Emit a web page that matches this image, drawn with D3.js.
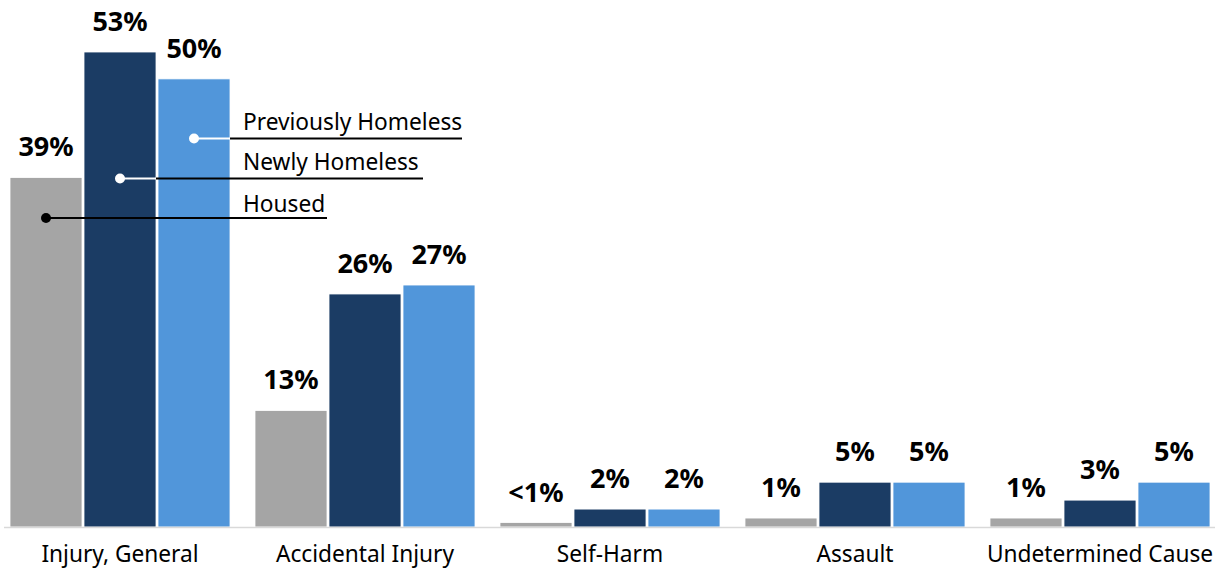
<!DOCTYPE html>
<html>
<head>
<meta charset="utf-8">
<script src="https://cdn.jsdelivr.net/npm/d3@7"></script>
<style>
  html, body { margin: 0; padding: 0; background: #fff; }
  svg { display: block; font-family: "Noto Sans", "Open Sans", sans-serif; }
</style>
</head>
<body>
<svg id="chart" width="1217" height="569"></svg>
<script>
// Injury categories along the x axis
const categories = ["Injury, General", "Accidental Injury", "Self-Harm", "Assault", "Undetermined Cause"];

// Housing status series
const seriesNames = ["Housed", "Newly Homeless", "Previously Homeless"];
const seriesColors = ["#A5A5A5", "#1B3C64", "#5196DA"];

// Percentages per series, in category order
const housed = [39, 13, 0.5, 1, 1];
const newlyHomeless = [53, 26, 2, 5, 3];
const previouslyHomeless = [50, 27, 2, 5, 5];

// Value labels shown above each bar
const housedLabels = ["39%", "13%", "<1%", "1%", "1%"];
const newlyLabels = ["53%", "26%", "2%", "5%", "3%"];
const previouslyLabels = ["50%", "27%", "2%", "5%", "5%"];

const values = [housed, newlyHomeless, previouslyHomeless];
const labels = [housedLabels, newlyLabels, previouslyLabels];

const svg = d3.select("#chart");

const baseY = 527;

const x0 = d3.scaleBand()
  .domain(categories)
  .range([10, 1210])
  .paddingInner(0.102)
  .paddingOuter(0);

const x1 = d3.scaleBand()
  .domain(seriesNames)
  .range([0, x0.bandwidth()])
  .paddingInner(0.027)
  .paddingOuter(0);

const y = d3.scaleLinear()
  .domain([0, 53])
  .range([baseY, 52]);

// Flatten into one record per bar
const bars = [];
categories.forEach((cat, ci) => {
  seriesNames.forEach((s, si) => {
    bars.push({ cat, series: s, si, value: values[si][ci], label: labels[si][ci] });
  });
});

const g = svg.append("g");

g.selectAll("rect.bar")
  .data(bars)
  .join("rect")
  .attr("class", "bar")
  .attr("x", d => x0(d.cat) + x1(d.series))
  .attr("y", d => y(d.value))
  .attr("width", x1.bandwidth())
  .attr("height", d => baseY - y(d.value))
  .attr("fill", d => seriesColors[d.si])
  .attr("stroke", "#ffffff")
  .attr("stroke-width", 0.8);

// Baseline
svg.append("line")
  .attr("x1", 4).attr("x2", 1215)
  .attr("y1", baseY + 0.5).attr("y2", baseY + 0.5)
  .attr("stroke", "#D9D9D9")
  .attr("stroke-width", 1.5);

// Value labels
g.selectAll("text.val")
  .data(bars)
  .join("text")
  .attr("class", "val")
  .attr("x", d => x0(d.cat) + x1(d.series) + x1.bandwidth() / 2)
  .attr("y", d => y(d.value) - 21)
  .attr("text-anchor", "middle")
  .attr("font-size", 27)
  .attr("font-weight", 700)
  .attr("fill", "#000")
  .text(d => d.label);

// Category axis
const xAxis = d3.axisBottom(x0).tickSize(0).tickPadding(0);
const axisG = svg.append("g")
  .attr("transform", `translate(0, ${baseY})`)
  .call(xAxis);
axisG.select(".domain").remove();
axisG.selectAll("text")
  .attr("y", 0)
  .attr("dy", 0)
  .attr("transform", "translate(0, 35)")
  .attr("font-family", "\"Noto Sans\", \"Open Sans\", sans-serif")
  .attr("font-size", 22.7)
  .attr("fill", "#000");

// Callout legend anchored to the first category's bars
const firstCat = categories[0];
const legendItems = [
  { si: 2, dotY: 138.5, textY: 130, textX: 243, lineEnd: 462 },
  { si: 1, dotY: 178.5, textY: 170, textX: 243, lineEnd: 423 },
  { si: 0, dotY: 218, textY: 212, textX: 243, lineEnd: 327 }
];

legendItems.forEach(item => {
  const name = seriesNames[item.si];
  const barLeft = x0(firstCat) + x1(name);
  const barRight = barLeft + x1.bandwidth();
  const dotX = barLeft + x1.bandwidth() / 2;
  const onDark = item.si !== 0;
  const leg = svg.append("g");
  if (onDark) {
    leg.append("line")
      .attr("x1", dotX).attr("x2", barRight)
      .attr("y1", item.dotY).attr("y2", item.dotY)
      .attr("stroke", "#fff").attr("stroke-width", 2);
    leg.append("line")
      .attr("x1", barRight).attr("x2", item.lineEnd)
      .attr("y1", item.dotY).attr("y2", item.dotY)
      .attr("stroke", "#000").attr("stroke-width", 2);
  } else {
    leg.append("line")
      .attr("x1", dotX).attr("x2", item.lineEnd)
      .attr("y1", item.dotY).attr("y2", item.dotY)
      .attr("stroke", "#000").attr("stroke-width", 2);
  }
  leg.append("circle")
    .attr("cx", dotX).attr("cy", item.dotY).attr("r", 5)
    .attr("fill", onDark ? "#fff" : "#000");
  leg.append("text")
    .attr("x", item.textX).attr("y", item.textY)
    .attr("font-size", 22.7)
    .attr("fill", "#000")
    .text(name);
});
</script>
</body>
</html>
